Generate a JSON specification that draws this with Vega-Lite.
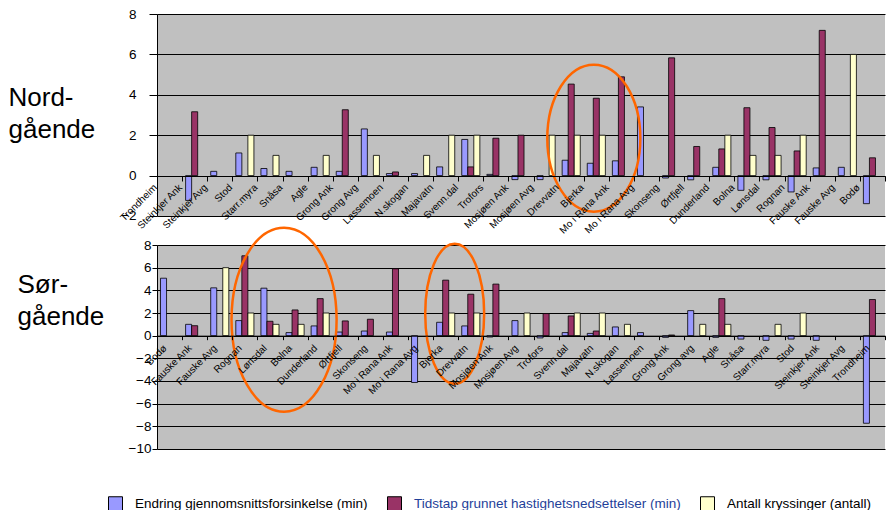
{
 "$schema": "https://vega.github.io/schema/vega-lite/v6.json",
 "background": "white",
 "padding": {"left": 8, "top": 7, "right": 0, "bottom": 0},
 "config": {
  "font": "Liberation Sans",
  "view": {"fill": "#C0C0C0", "stroke": null},
  "axis": {"labelFont": "Liberation Sans", "titleFont": "Liberation Sans", "labelColor": "black", "titleColor": "black", "domainColor": "black", "tickColor": "black", "gridColor": "black", "gridOpacity": 1, "domainWidth": 1, "tickWidth": 1, "gridWidth": 1},
  "legend": {"labelFont": "Liberation Sans"}
 },
 "datasets": {
  "nord": [
   {"s": "Steinkjer Ank", "k": "E", "v": -1.23}, {"s": "Steinkjer Ank", "k": "T", "v": 3.16},
   {"s": "Steinkjer Avg", "k": "E", "v": 0.21},
   {"s": "Stod", "k": "E", "v": 1.12}, {"s": "Stod", "k": "A", "v": 2},
   {"s": "Starr.myra", "k": "E", "v": 0.35}, {"s": "Starr.myra", "k": "A", "v": 1},
   {"s": "Snåsa", "k": "E", "v": 0.21},
   {"s": "Agle", "k": "E", "v": 0.41}, {"s": "Agle", "k": "A", "v": 1},
   {"s": "Grong Ank", "k": "E", "v": 0.21}, {"s": "Grong Ank", "k": "T", "v": 3.26},
   {"s": "Grong Avg", "k": "E", "v": 2.31}, {"s": "Grong Avg", "k": "A", "v": 1},
   {"s": "Lassemoen", "k": "E", "v": 0.1}, {"s": "Lassemoen", "k": "T", "v": 0.18},
   {"s": "N.skogan", "k": "E", "v": 0.1}, {"s": "N.skogan", "k": "A", "v": 1},
   {"s": "Majavatn", "k": "E", "v": 0.43}, {"s": "Majavatn", "k": "A", "v": 2},
   {"s": "Svenn.dal", "k": "E", "v": 1.79}, {"s": "Svenn.dal", "k": "T", "v": 0.43}, {"s": "Svenn.dal", "k": "A", "v": 2},
   {"s": "Trofors", "k": "E", "v": 0.06}, {"s": "Trofors", "k": "T", "v": 1.85},
   {"s": "Mosjøen Ank", "k": "E", "v": -0.2}, {"s": "Mosjøen Ank", "k": "T", "v": 2.0},
   {"s": "Mosjøen Avg", "k": "E", "v": -0.2}, {"s": "Mosjøen Avg", "k": "A", "v": 2},
   {"s": "Drevvatn", "k": "E", "v": 0.76}, {"s": "Drevvatn", "k": "T", "v": 4.53}, {"s": "Drevvatn", "k": "A", "v": 2},
   {"s": "Bjerka", "k": "E", "v": 0.61}, {"s": "Bjerka", "k": "T", "v": 3.83}, {"s": "Bjerka", "k": "A", "v": 2},
   {"s": "Mo i Rana Ank", "k": "E", "v": 0.73}, {"s": "Mo i Rana Ank", "k": "T", "v": 4.89},
   {"s": "Mo i Rana Avg", "k": "E", "v": 3.4},
   {"s": "Skonseng", "k": "E", "v": -0.12}, {"s": "Skonseng", "k": "T", "v": 5.83},
   {"s": "Ørtfjell", "k": "E", "v": -0.21}, {"s": "Ørtfjell", "k": "T", "v": 1.44},
   {"s": "Dunderland", "k": "E", "v": 0.41}, {"s": "Dunderland", "k": "T", "v": 1.32}, {"s": "Dunderland", "k": "A", "v": 2},
   {"s": "Bolna", "k": "E", "v": -0.73}, {"s": "Bolna", "k": "T", "v": 3.36}, {"s": "Bolna", "k": "A", "v": 1},
   {"s": "Lønsdal", "k": "E", "v": -0.21}, {"s": "Lønsdal", "k": "T", "v": 2.38}, {"s": "Lønsdal", "k": "A", "v": 1},
   {"s": "Rognan", "k": "E", "v": -0.81}, {"s": "Rognan", "k": "T", "v": 1.22}, {"s": "Rognan", "k": "A", "v": 2},
   {"s": "Fauske Ank", "k": "E", "v": 0.38}, {"s": "Fauske Ank", "k": "T", "v": 7.19},
   {"s": "Fauske Avg", "k": "E", "v": 0.41}, {"s": "Fauske Avg", "k": "A", "v": 6},
   {"s": "Bodø", "k": "E", "v": -1.39}, {"s": "Bodø", "k": "T", "v": 0.88}
  ],
  "sor": [
   {"s": "Bodø", "k": "E", "v": 5.07},
   {"s": "Fauske Ank", "k": "E", "v": 1.0}, {"s": "Fauske Ank", "k": "T", "v": 0.88},
   {"s": "Fauske Avg", "k": "E", "v": 4.22}, {"s": "Fauske Avg", "k": "A", "v": 6},
   {"s": "Rognan", "k": "E", "v": 1.33}, {"s": "Rognan", "k": "T", "v": 7.05}, {"s": "Rognan", "k": "A", "v": 2},
   {"s": "Lønsdal", "k": "E", "v": 4.19}, {"s": "Lønsdal", "k": "T", "v": 1.27}, {"s": "Lønsdal", "k": "A", "v": 1},
   {"s": "Bolna", "k": "E", "v": 0.27}, {"s": "Bolna", "k": "T", "v": 2.27}, {"s": "Bolna", "k": "A", "v": 1},
   {"s": "Dunderland", "k": "E", "v": 0.86}, {"s": "Dunderland", "k": "T", "v": 3.27}, {"s": "Dunderland", "k": "A", "v": 2},
   {"s": "Ørtfjell", "k": "E", "v": 0.32}, {"s": "Ørtfjell", "k": "T", "v": 1.3},
   {"s": "Skonseng", "k": "E", "v": 0.41}, {"s": "Skonseng", "k": "T", "v": 1.45},
   {"s": "Mo i Rana Ank", "k": "E", "v": 0.32}, {"s": "Mo i Rana Ank", "k": "T", "v": 5.9},
   {"s": "Mo i Rana Avg", "k": "E", "v": -4.13},
   {"s": "Bjerka", "k": "E", "v": 1.18}, {"s": "Bjerka", "k": "T", "v": 4.9}, {"s": "Bjerka", "k": "A", "v": 2},
   {"s": "Drevvatn", "k": "E", "v": 0.86}, {"s": "Drevvatn", "k": "T", "v": 3.66}, {"s": "Drevvatn", "k": "A", "v": 2},
   {"s": "Mosjøen Ank", "k": "E", "v": -0.12}, {"s": "Mosjøen Ank", "k": "T", "v": 4.55},
   {"s": "Mosjøen Avg", "k": "E", "v": 1.33}, {"s": "Mosjøen Avg", "k": "A", "v": 2},
   {"s": "Trofors", "k": "E", "v": -0.2}, {"s": "Trofors", "k": "T", "v": 1.95},
   {"s": "Svenn.dal", "k": "E", "v": 0.27}, {"s": "Svenn.dal", "k": "T", "v": 1.74}, {"s": "Svenn.dal", "k": "A", "v": 2},
   {"s": "Majavatn", "k": "E", "v": 0.2}, {"s": "Majavatn", "k": "T", "v": 0.41}, {"s": "Majavatn", "k": "A", "v": 2},
   {"s": "N.skogan", "k": "E", "v": 0.77}, {"s": "N.skogan", "k": "A", "v": 1},
   {"s": "Lassemoen", "k": "E", "v": 0.27},
   {"s": "Grong Ank", "k": "E", "v": -0.15}, {"s": "Grong Ank", "k": "T", "v": 0.06},
   {"s": "Grong avg", "k": "E", "v": 2.21}, {"s": "Grong avg", "k": "A", "v": 1},
   {"s": "Agle", "k": "E", "v": -0.15}, {"s": "Agle", "k": "T", "v": 3.27}, {"s": "Agle", "k": "A", "v": 1},
   {"s": "Snåsa", "k": "E", "v": -0.3},
   {"s": "Starr.myra", "k": "E", "v": -0.41}, {"s": "Starr.myra", "k": "A", "v": 1},
   {"s": "Stod", "k": "E", "v": -0.3}, {"s": "Stod", "k": "A", "v": 2},
   {"s": "Steinkjer Ank", "k": "E", "v": -0.41},
   {"s": "Trondheim", "k": "E", "v": -7.73}, {"s": "Trondheim", "k": "T", "v": 3.19}
  ]
 },
 "bounds": "flush",
 "spacing": 29,
 "vconcat": [
  {
   "width": 728,
   "height": 202,
   "layer": [
    {
     "data": {"name": "nord"},
     "mark": {"type": "bar", "stroke": "black", "strokeWidth": 0.8},
     "encoding": {
      "x": {"field": "s", "type": "nominal",
       "scale": {"domain": ["Trondheim", "Steinkjer Ank", "Steinkjer Avg", "Stod", "Starr.myra", "Snåsa", "Agle", "Grong Ank", "Grong Avg", "Lassemoen", "N.skogan", "Majavatn", "Svenn.dal", "Trofors", "Mosjøen Ank", "Mosjøen Avg", "Drevvatn", "Bjerka", "Mo i Rana Ank", "Mo i Rana Avg", "Skonseng", "Ørtfjell", "Dunderland", "Bolna", "Lønsdal", "Rognan", "Fauske Ank", "Fauske Avg", "Bodø"], "paddingInner": 0, "paddingOuter": 0},
       "axis": {"title": null, "labelAngle": -45, "labelAlign": "right", "labelBaseline": "top", "labelFontSize": 10, "labelOffset": -18, "labelPadding": 1, "tickBand": "extent", "tickSize": 5, "offset": -40, "grid": false, "labelOverlap": false, "zindex": 1}},
      "xOffset": {"field": "k", "type": "nominal", "scale": {"domain": ["E", "T", "A"], "paddingInner": 0, "paddingOuter": 0.58}},
      "y": {"field": "v", "type": "quantitative", "scale": {"domain": [-2.001, 8], "nice": false},
       "axis": {"values": [-2, 0, 2, 4, 6, 8], "format": "d", "tickCount": 30, "grid": true, "tickSize": 8, "labelPadding": 13, "labelFontSize": 13.5, "labelOverlap": false, "labelFlush": false, "labelBound": false, "title": ["Nord-", "gående"], "titleAngle": 0, "titleAlign": "left", "titleBaseline": "alphabetic", "titleX": -149, "titleY": 91, "titleFontSize": 26, "titleFontWeight": "normal", "titleLineHeight": 32, "zindex": 0}},
      "color": {"field": "k", "type": "nominal", "scale": {"domain": ["E", "T", "A"], "range": ["#9999FF", "#993366", "#FFFFCC"]},
       "legend": {"orient": "none", "legendX": -49, "legendY": 482, "direction": "horizontal", "title": null, "symbolType": "square", "symbolSize": 196, "symbolStrokeColor": "black", "symbolStrokeWidth": 1, "symbolOpacity": 1, "labelFontSize": 13.5, "labelLimit": 500, "labelOffset": 12, "columnPadding": 17, "padding": 0,
        "labelExpr": "datum.label == 'E' ? 'Endring gjennomsnittsforsinkelse (min)' : datum.label == 'T' ? 'Tidstap grunnet hastighetsnedsettelser (min)' : 'Antall kryssinger (antall)'",
        "labelColor": {"expr": "datum.value == 'T' ? '#1F3F99' : 'black'"}}}
     }
    },
    {
     "data": {"values": [{"s": "Bjerka", "v": 1.85}]},
     "mark": {"type": "point", "shape": "M 0 -1 A 0.633 1 0 0 1 0 1 A 0.633 1 0 0 1 0 -1 Z", "size": 21609, "filled": false, "stroke": "#FF6600", "strokeWidth": 2.5, "opacity": 1, "xOffset": -2.5},
     "encoding": {
      "x": {"field": "s", "type": "nominal"},
      "y": {"field": "v", "type": "quantitative"}
     }
    }
   ]
  },
  {
   "width": 728,
   "height": 204,
   "layer": [
    {
     "data": {"name": "sor"},
     "mark": {"type": "bar", "stroke": "black", "strokeWidth": 0.8},
     "encoding": {
      "x": {"field": "s", "type": "nominal",
       "scale": {"domain": ["Bodø", "Fauske Ank", "Fauske Avg", "Rognan", "Lønsdal", "Bolna", "Dunderland", "Ørtfjell", "Skonseng", "Mo i Rana Ank", "Mo i Rana Avg", "Bjerka", "Drevvatn", "Mosjøen Ank", "Mosjøen Avg", "Trofors", "Svenn.dal", "Majavatn", "N.skogan", "Lassemoen", "Grong Ank", "Grong avg", "Agle", "Snåsa", "Starr.myra", "Stod", "Steinkjer Ank", "Steinkjer Avg", "Trondheim"], "paddingInner": 0, "paddingOuter": 0},
       "axis": {"title": null, "labelAngle": -45, "labelAlign": "right", "labelBaseline": "top", "labelFontSize": 10, "labelOffset": -8.5, "labelPadding": 3, "tickBand": "extent", "tickSize": 4, "offset": -113.33, "grid": false, "labelOverlap": false, "zindex": 1}},
      "xOffset": {"field": "k", "type": "nominal", "scale": {"domain": ["E", "T", "A"], "paddingInner": 0, "paddingOuter": 0.58}},
      "y": {"field": "v", "type": "quantitative", "scale": {"domain": [-10.001, 8.001], "nice": false},
       "axis": {"values": [-10, -8, -6, -4, -2, 0, 2, 4, 6, 8], "format": "d", "tickCount": 30, "grid": true, "tickSize": 5, "labelPadding": 1, "labelFontSize": 13.5, "labelOverlap": false, "labelFlush": false, "labelBound": false, "title": ["Sør-", "gående"], "titleAngle": 0, "titleAlign": "left", "titleBaseline": "alphabetic", "titleX": -140, "titleY": 47, "titleFontSize": 26, "titleFontWeight": "normal", "titleLineHeight": 32, "zindex": 0}},
      "color": {"field": "k", "type": "nominal", "scale": {"domain": ["E", "T", "A"], "range": ["#9999FF", "#993366", "#FFFFCC"]}}
     }
    },
    {
     "data": {"values": [{"s": "Bolna", "v": 1.41}]},
     "mark": {"type": "point", "shape": "M 0 -1 A 0.571 1 0 0 1 0 1 A 0.571 1 0 0 1 0 -1 Z", "size": 33856, "filled": false, "stroke": "#FF6600", "strokeWidth": 2.5, "opacity": 1, "xOffset": -11},
     "encoding": {
      "x": {"field": "s", "type": "nominal"},
      "y": {"field": "v", "type": "quantitative"}
     }
    },
    {
     "data": {"values": [{"s": "Bjerka", "v": 1.94}]},
     "mark": {"type": "point", "shape": "M 0 -1 A 0.421 1 0 0 1 0 1 A 0.421 1 0 0 1 0 -1 Z", "size": 19600, "filled": false, "stroke": "#FF6600", "strokeWidth": 2.5, "opacity": 1, "xOffset": 9},
     "encoding": {
      "x": {"field": "s", "type": "nominal"},
      "y": {"field": "v", "type": "quantitative"}
     }
    }
   ]
  }
 ],
 "resolve": {"scale": {"x": "independent", "y": "independent", "xOffset": "independent", "color": "shared"}}
}
